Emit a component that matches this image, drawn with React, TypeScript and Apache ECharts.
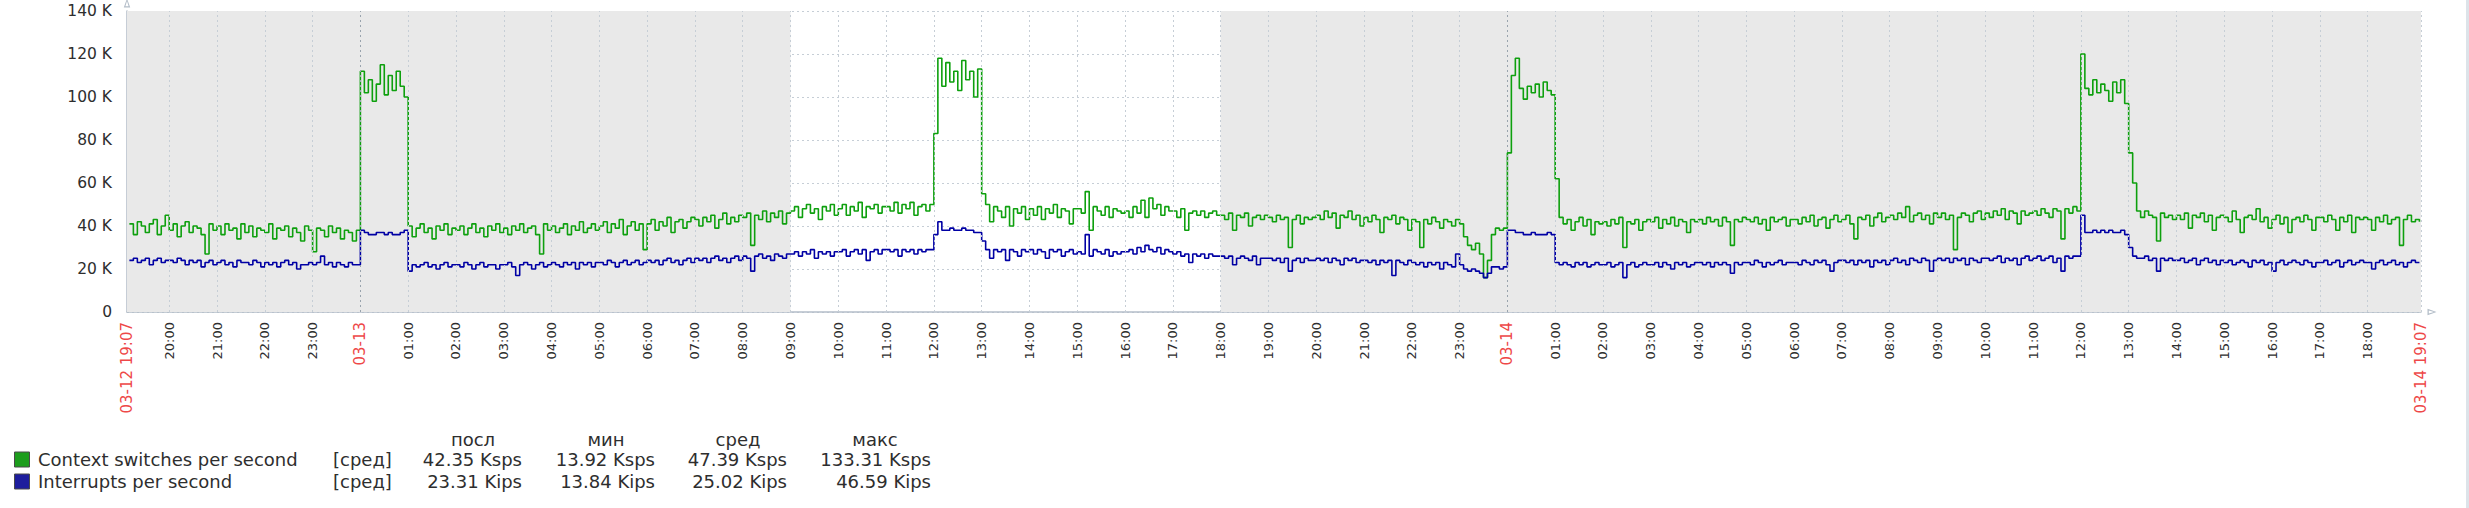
import React, { useEffect, useRef } from 'react';
import * as echarts from 'echarts';

// time in minutes from 03-12 00:00
const AXIS_START = 1147; // 03-12 19:07
const AXIS_END = 4027; // 03-14 19:07
const SAMPLE_START = 1150; // first sample 03-12 19:10
const SAMPLE_STEP = 5; // minutes

// Context switches per second, K (03-12 19:10 .. 23:55)
const csDay1 = [
  41, 36, 42, 40, 37, 41, 43, 36, 40, 45,
  38, 41, 35, 40, 42, 37, 40, 39, 36, 27, 41, 38,
  40, 36, 41, 38, 39, 34, 41, 37, 40, 35, 39, 38,
  37, 41, 34, 39, 38, 40, 35, 39, 37, 33, 40, 38,
  28, 39, 38, 35, 40, 37, 39, 34, 38, 37, 33, 38,
];
// 03-13 00:00 .. 23:55
const csDay2 = [
  112, 102, 108, 98, 106, 115, 101, 110, 103, 112, 105, 100,
  40, 35, 39, 41, 37, 39, 34, 40, 38, 41, 36, 39,
  38, 40, 36, 39, 41, 37, 39, 35, 40, 38, 41, 37,
  39, 36, 40, 38, 41, 37, 39, 40, 36, 27, 41, 38,
  40, 37, 39, 41, 36, 40, 38, 42, 37, 39, 41, 38,
  40, 42, 37, 41, 39, 43, 36, 40, 42, 38, 41, 29,
  41, 43, 38, 42, 40, 44, 37, 42, 43, 39, 42, 44,
  43, 40, 44, 42, 45, 39, 43, 46, 41, 44, 42, 45,
  44, 46, 31, 45, 43, 47, 42, 46, 44, 47, 41, 46,
  47, 49, 44, 48, 50, 46, 48, 43, 49, 47, 50, 45,
  48, 50, 45, 49, 47, 51, 44, 49, 48, 50, 46, 49,
  49, 47, 51, 46, 50, 48, 51, 45, 49, 50, 47, 50,
  83, 118, 105, 116, 107, 112, 103, 117, 108, 112, 100, 113,
  55, 50, 42, 49, 47, 44, 49, 40, 48, 46, 49, 43,
  48, 45, 49, 43, 48, 46, 50, 44, 48, 47, 41, 48,
  48, 46, 56, 38, 49, 47, 45, 49, 44, 48, 47, 46,
  47, 44, 49, 46, 52, 44, 53, 48, 50, 45, 49, 47,
  47, 44, 48, 38, 46, 47, 45, 47, 44, 46, 47, 45,
  45, 43, 46, 38, 45, 44, 46, 40, 44, 45, 43, 45,
  44, 42, 45, 43, 44, 30, 43, 45, 41, 44, 43, 44,
  45, 43, 47, 44, 46, 39, 45, 44, 47, 43, 45, 40,
  44, 42, 45, 43, 37, 44, 43, 45, 41, 44, 43, 38,
  43, 42, 30, 43, 41, 44, 42, 39, 43, 42, 40, 43,
  41, 35, 31, 29, 32, 27, 16, 24, 36, 39, 38, 39,
];
// 03-14 00:00 .. 19:05
const csDay3 = [
  74, 110, 118, 104, 99, 105, 102, 106, 100, 107, 103, 101,
  62, 44, 41, 43, 38, 42, 44, 40, 43, 36, 42, 41,
  42, 40, 43, 41, 44, 30, 42, 41, 43, 38, 42, 43,
  42, 44, 39, 43, 41, 44, 40, 43, 42, 37, 43, 42,
  43, 41, 44, 42, 43, 40, 44, 42, 31, 43, 42, 44,
  43, 42, 44, 41, 43, 38, 44, 42, 43, 44, 40, 43,
  43, 41, 44, 42, 45, 40, 43, 44, 39, 43, 45, 42,
  43, 45, 41, 34, 44, 43, 45, 40, 44, 46, 42, 44,
  45, 43, 46, 44, 49, 42, 45, 46, 43, 45, 41, 46,
  44, 46, 43, 45, 29, 44, 46, 45, 42, 46, 47, 43,
  46, 44, 47, 45, 48, 43, 47, 46, 41, 47, 45, 46,
  47, 45, 48, 46, 44, 48, 47, 34, 48, 46, 49, 47,
  120, 104, 101, 108, 102, 106, 103, 98, 107, 102, 108, 97,
  74, 60, 47, 44, 47, 45, 44, 33, 46, 44, 45, 43,
  45, 43, 46, 39, 45, 44, 46, 42, 45, 38, 44, 45,
  44, 42, 47, 43, 37, 44, 45, 43, 48, 42, 44, 39,
  43, 45, 41, 44, 37, 43, 44, 42, 45, 43, 38, 44,
  44, 42, 45, 43, 38, 44, 42, 45, 37, 44, 43, 44,
  43, 38, 44, 42, 45, 41, 43, 44, 31, 43, 45, 42,
  43, 42,
];

// Interrupts per second, K
const irqDay1 = [
  24, 25, 23, 24, 25, 22, 24, 25, 23, 24,
  24, 23, 25, 24, 22, 24, 23, 24, 21, 23, 24, 22,
  23, 24, 22, 23, 21, 24, 23, 23, 22, 24, 23, 21,
  23, 22, 23, 21, 23, 24, 22, 23, 20, 22, 22, 23,
  22, 23, 26, 22, 23, 21, 23, 22, 21, 23, 22, 22,
];
const irqDay2 = [
  38, 37, 36, 36, 37, 37, 36, 37, 36, 36, 37, 38,
  19, 22, 21, 22, 23, 21, 22, 20, 22, 23, 21, 22,
  22, 21, 23, 22, 20, 22, 23, 21, 22, 22, 20, 22,
  22, 23, 21, 17, 22, 23, 22, 20, 22, 23, 21, 22,
  23, 22, 21, 23, 22, 23, 20, 23, 22, 23, 21, 23,
  23, 22, 24, 23, 21, 23, 24, 22, 23, 24, 22, 23,
  24, 23, 24, 22, 24, 25, 23, 24, 22, 24, 25, 23,
  25, 24, 25, 23, 25, 26, 24, 25, 23, 25, 26, 24,
  26, 25, 19, 26, 27, 25, 26, 24, 27, 26, 25, 27,
  27, 28, 26, 28, 27, 29, 25, 28, 27, 28, 26, 28,
  28, 29, 26, 28, 29, 27, 29, 24, 28, 29, 27, 29,
  29, 28, 29, 26, 29, 28, 29, 27, 29, 28, 29, 29,
  36, 42, 38, 38, 39, 38, 38, 39, 38, 38, 37, 37,
  33, 29, 25, 29, 28, 29, 24, 29, 28, 26, 29, 28,
  29, 27, 29, 28, 25, 29, 28, 29, 26, 28, 29, 27,
  28, 27, 36, 26, 29, 28, 27, 29, 26, 28, 27, 28,
  28, 29, 27, 30, 28, 31, 29, 28, 30, 27, 29, 28,
  27, 28, 26, 27, 23, 27, 26, 27, 25, 27, 26, 26,
  26, 25, 26, 22, 25, 26, 25, 24, 26, 22, 25, 25,
  25, 24, 25, 23, 25, 19, 24, 25, 23, 25, 24, 24,
  25, 24, 25, 23, 25, 24, 22, 25, 24, 25, 23, 24,
  24, 23, 24, 22, 24, 23, 24, 17, 24, 23, 22, 24,
  23, 22, 23, 21, 23, 22, 23, 20, 23, 22, 21, 27,
  22, 20, 19, 20, 19, 18, 16, 18, 21, 21, 20, 21,
];
const irqDay3 = [
  38, 38, 37, 37, 36, 36, 37, 36, 36, 36, 37, 36,
  23, 22, 23, 22, 21, 23, 22, 23, 21, 22, 23, 22,
  22, 23, 21, 22, 23, 16, 22, 23, 21, 22, 23, 22,
  22, 23, 21, 23, 22, 20, 23, 22, 23, 21, 22, 23,
  23, 22, 23, 21, 23, 22, 23, 22, 18, 23, 22, 23,
  23, 22, 24, 23, 21, 23, 22, 23, 24, 22, 23, 23,
  23, 22, 24, 23, 22, 24, 23, 24, 22, 19, 23, 24,
  24, 23, 24, 22, 24, 23, 24, 21, 24, 23, 24, 22,
  24, 25, 23, 24, 22, 25, 24, 23, 25, 24, 19, 24,
  25, 24, 25, 23, 25, 24, 25, 22, 25, 24, 23, 25,
  25, 24, 25, 26, 23, 25, 24, 25, 22, 25, 26, 24,
  25, 26, 24, 25, 26, 23, 25, 19, 26, 25, 26, 26,
  45, 37, 37, 38, 37, 38, 37, 38, 37, 37, 38, 36,
  30, 26, 25, 25, 26, 24, 25, 19, 25, 24, 25, 24,
  24, 25, 23, 24, 25, 22, 24, 25, 23, 24, 22, 24,
  23, 24, 22, 23, 24, 23, 21, 24, 23, 24, 22, 23,
  19, 23, 24, 22, 23, 24, 23, 22, 24, 23, 21, 23,
  23, 24, 22, 23, 24, 21, 23, 24, 22, 23, 24, 23,
  23, 20, 23, 24, 22, 23, 24, 22, 23, 21, 23, 24,
  23, 23,
];

const seriesNames = ['Context switches per second', 'Interrupts per second'];
const legendFunc = '[сред]';
const legendHeaders = ['посл', 'мин', 'сред', 'макс'];
const csStats = ['42.35 Ksps', '13.92 Ksps', '47.39 Ksps', '133.31 Ksps'];
const irqStats = ['23.31 Kips', '13.84 Kips', '25.02 Kips', '46.59 Kips'];

// red date labels on the time axis
const dateLabels: [number, string][] = [
  [1147, '03-12 19:07'],
  [1440, '03-13'],
  [2880, '03-14'],
  [4027, '03-14 19:07'],
];
// non-working periods (grey background)
const nonWorkPeriods: [number, number][] = [
  [1147, 1980],
  [2520, 4027],
];
const yTickValues = [0, 20000, 40000, 60000, 80000, 100000, 120000, 140000];

const FONT = 'DejaVu Sans';
const GREEN = '#0ea00e';
const BLUE = '#0000a4';
const TEXT = '#2e2e2e';
const RED = '#ee4848';
const AXIS = '#b3bdc8';
const GRID_LIGHT = '#c6ced6';
const GRID_DARK = '#99a3ad';
const ARROW = 'path://M5,0L10,14L0,14Z M5,4L2.5,12L7.5,12Z';

const hourTicks: number[] = [];
for (let m = 1200; m < 4020; m += 60) hourTicks.push(m);
const dateMap = new Map(dateLabels);
const pad = (n: number) => (n < 10 ? '0' + n : '' + n);

const toPoints = (arr: number[]) =>
  arr.map((v, i) => [SAMPLE_START + i * SAMPLE_STEP, v * 1000]);

export default function App() {
  const ref = useRef<HTMLDivElement>(null);
  useEffect(() => {
    const chart = echarts.init(ref.current!, null, { renderer: 'svg' });
    const cs = toPoints([...csDay1, ...csDay2, ...csDay3]);
    const irq = toPoints([...irqDay1, ...irqDay2, ...irqDay3]);
    const labelValues = [AXIS_START, ...hourTicks, AXIS_END];

    const legendRows = [
      { name: seriesNames[0], color: '#1d9d1d', stats: csStats, y: 459 },
      { name: seriesNames[1], color: '#1d1d9d', stats: irqStats, y: 481 },
    ];
    const headerX = [473, 606, 738, 875];
    const valueRight = [522, 655, 787, 931];
    const graphic: any[] = [];
    legendHeaders.forEach((h, k) =>
      graphic.push({
        type: 'text', x: headerX[k], y: 439, silent: true,
        style: { text: h, fill: TEXT, fontSize: 18, fontFamily: FONT, align: 'center', verticalAlign: 'middle' },
      })
    );
    legendRows.forEach((r) => {
      graphic.push({
        type: 'rect', silent: true,
        shape: { x: 14.5, y: r.y - 7, width: 15, height: 15 },
        style: { fill: r.color, stroke: '#4a4a4a', lineWidth: 1 },
      });
      graphic.push({
        type: 'text', x: 38, y: r.y, silent: true,
        style: { text: r.name, fill: TEXT, fontSize: 18, fontFamily: FONT, align: 'left', verticalAlign: 'middle' },
      });
      graphic.push({
        type: 'text', x: 333, y: r.y, silent: true,
        style: { text: legendFunc, fill: TEXT, fontSize: 18, fontFamily: FONT, align: 'left', verticalAlign: 'middle' },
      });
      r.stats.forEach((s, k) =>
        graphic.push({
          type: 'text', x: valueRight[k], y: r.y, silent: true,
          style: { text: s, fill: TEXT, fontSize: 18, fontFamily: FONT, align: 'right', verticalAlign: 'middle' },
        })
      );
    });
    graphic.push({
      type: 'rect', silent: true,
      shape: { x: 2466, y: 0, width: 3, height: 508 },
      style: { fill: '#dde3e9' },
    });

    const vLines = [
      ...hourTicks.map((v) => ({
        xAxis: v,
        lineStyle: { color: v % 1440 === 0 ? GRID_DARK : GRID_LIGHT },
      })),
      { xAxis: AXIS_END, lineStyle: { color: GRID_LIGHT } },
    ];

    chart.setOption({
      animation: false,
      backgroundColor: '#ffffff',
      grid: { left: 127, right: 48, top: 11, bottom: 196, containLabel: false },
      xAxis: {
        type: 'value',
        min: AXIS_START,
        max: AXIS_END,
        axisLine: {
          show: true,
          lineStyle: { color: AXIS, width: 1.5 },
          symbol: ['none', ARROW],
          symbolSize: [9, 9],
          symbolOffset: [0, 11],
        },
        axisTick: { show: false },
        splitLine: { show: false },
        axisLabel: {
          customValues: labelValues,
          rotate: 90,
          margin: 10,
          hideOverlap: false,
          fontFamily: FONT,
          formatter: (v: number) => {
            const d = dateMap.get(v);
            if (d) return '{d|' + d + '}';
            const h = Math.floor((v % 1440) / 60);
            return '{h|' + pad(h) + ':00}';
          },
          rich: {
            d: { color: RED, fontSize: 15, fontFamily: FONT },
            h: { color: TEXT, fontSize: 13, fontFamily: FONT },
          },
        },
      },
      yAxis: {
        type: 'value',
        min: 0,
        max: 140000,
        interval: 20000,
        axisLine: {
          show: true,
          lineStyle: { color: AXIS, width: 1.5 },
          symbol: ['none', ARROW],
          symbolSize: [9, 9],
          symbolOffset: [0, 8],
        },
        axisTick: { show: false },
        axisLabel: {
          margin: 15,
          color: TEXT,
          fontSize: 15.5,
          fontFamily: FONT,
          formatter: (v: number) => (yTickValues.includes(v) ? (v === 0 ? '0' : v / 1000 + ' K') : ''),
        },
        splitLine: { show: true, lineStyle: { color: GRID_LIGHT, type: [2, 3], width: 1 } },
      },
      graphic,
      series: [
        {
          type: 'line', data: [], z: -1, silent: true,
          markArea: {
            silent: true,
            itemStyle: { color: '#e9e9e9' },
            data: nonWorkPeriods.map(([a, b]) => [{ xAxis: a }, { xAxis: b }]),
          },
        },
        {
          type: 'line', data: [], z: 1, silent: true,
          markLine: {
            silent: true,
            symbol: ['none', 'none'],
            label: { show: false },
            lineStyle: { type: [2, 3], width: 1, color: GRID_LIGHT },
            data: vLines,
          },
        },
        {
          name: seriesNames[0], type: 'line', data: cs, step: 'end', showSymbol: false, z: 3,
          lineStyle: { color: GREEN, width: 1.6 }, itemStyle: { color: GREEN },
        },
        {
          name: seriesNames[1], type: 'line', data: irq, step: 'end', showSymbol: false, z: 4,
          lineStyle: { color: BLUE, width: 1.6 }, itemStyle: { color: BLUE },
        },
      ],
    });
    return () => chart.dispose();
  }, []);
  return (
    <div
      ref={ref}
      style={{ position: 'absolute', left: 0, top: 0, width: 2469, height: 508, background: '#fff' }}
    />
  );
}
